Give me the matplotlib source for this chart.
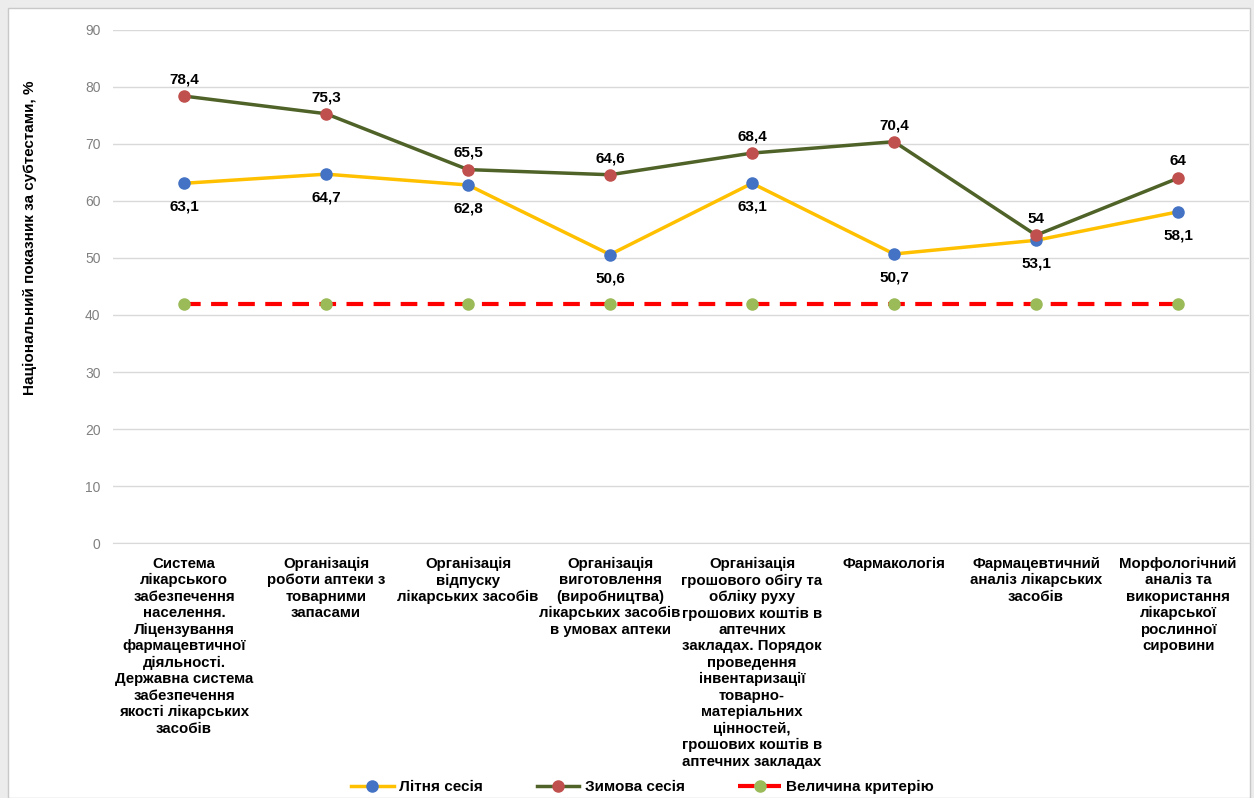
import numpy as np
import matplotlib.pyplot as plt
from matplotlib.patches import Rectangle

plt.rcParams['font.family'] = ['Liberation Sans', 'DejaVu Sans']

# Data
categories = [
    "Система\nлікарського\nзабезпечення\nнаселення.\nЛіцензування\nфармацевтичної\nдіяльності.\nДержавна система\nзабезпечення\nякості лікарських\nзасобів",
    "Організація\nроботи аптеки з\nтоварними\nзапасами",
    "Організація\nвідпуску\nлікарських засобів",
    "Організація\nвиготовлення\n(виробництва)\nлікарських засобів\nв умовах аптеки",
    "Організація\nгрошового обігу та\nобліку руху\nгрошових коштів в\nаптечних\nзакладах. Порядок\nпроведення\nінвентаризації\nтоварно-\nматеріальних\nцінностей,\nгрошових коштів в\nаптечних закладах",
    "Фармакологія",
    "Фармацевтичний\nаналіз лікарських\nзасобів",
    "Морфологічний\nаналіз та\nвикористання\nлікарської\nрослинної\nсировини",
]
summer = [63.1, 64.7, 62.8, 50.6, 63.1, 50.7, 53.1, 58.1]
winter = [78.4, 75.3, 65.5, 64.6, 68.4, 70.4, 54, 64]
criterion = [42, 42, 42, 42, 42, 42, 42, 42]
summer_labels = ["63,1", "64,7", "62,8", "50,6", "63,1", "50,7", "53,1", "58,1"]
winter_labels = ["78,4", "75,3", "65,5", "64,6", "68,4", "70,4", "54", "64"]

fig = plt.figure(figsize=(12.54, 7.98), dpi=100)
fig.patch.set_facecolor('#ececec')
fig.patches.append(Rectangle((8 / 1254, 0), 1242 / 1254, 1 - 8 / 798,
                             transform=fig.transFigure, facecolor='white',
                             edgecolor='#c8c8c8', linewidth=1, zorder=-10))

ax = fig.add_axes([0.0901, 0.3195, 0.906, 0.643])
ax.set_facecolor('none')
x = np.arange(len(categories))

ax.plot(x, summer, color='#FFC000', linewidth=2.5, marker='o', markersize=8,
        markerfacecolor='#4472C4', markeredgecolor='#4472C4', label='Літня сесія', zorder=3)
ax.plot(x, winter, color='#4F6228', linewidth=2.5, marker='o', markersize=8,
        markerfacecolor='#C0504D', markeredgecolor='#C0504D', label='Зимова сесія', zorder=3)
ax.plot(x, criterion, color='#FF0000', linewidth=3, linestyle=(0, (4, 2.5)), marker='o', markersize=8,
        markerfacecolor='#9BBB59', markeredgecolor='#9BBB59', label='Величина критерію', zorder=3)

for xi, v, t in zip(x, winter, winter_labels):
    ax.annotate(t, (xi, v), xytext=(0, 12), textcoords='offset points',
                ha='center', va='center', fontsize=11, fontweight='bold')
for xi, v, t in zip(x, summer, summer_labels):
    ax.annotate(t, (xi, v), xytext=(0, -17), textcoords='offset points',
                ha='center', va='center', fontsize=11, fontweight='bold')

ax.set_xlim(-0.5, len(categories) - 0.5)
ax.set_ylim(0, 90)
ax.set_yticks(range(0, 91, 10))
ax.set_xticks(x)
ax.set_xticklabels(categories, fontsize=10.8, fontweight='bold', linespacing=1.22)
ax.tick_params(axis='x', length=0, pad=10)
ax.tick_params(axis='y', length=0, pad=9, labelcolor='#808080', labelsize=10)
ax.grid(axis='y', color='#d9d9d9', linewidth=1)
ax.set_axisbelow(True)
for s in ['top', 'right', 'left']:
    ax.spines[s].set_visible(False)
ax.spines['bottom'].set_color('#d9d9d9')

fig.text(30 / 1254, 1 - 238 / 798, 'Національний показник за субтестами, %',
         rotation=90, ha='center', va='center', fontsize=11, fontweight='bold')

fig.legend(loc='center', bbox_to_anchor=(0.5124, 1 - 787 / 798), ncol=3, frameon=False,
           prop={'size': 11, 'weight': 'bold'}, handlelength=2.8, columnspacing=3.5,
           handletextpad=0.35)

fig.savefig('out.png', dpi=100, facecolor=fig.get_facecolor())
